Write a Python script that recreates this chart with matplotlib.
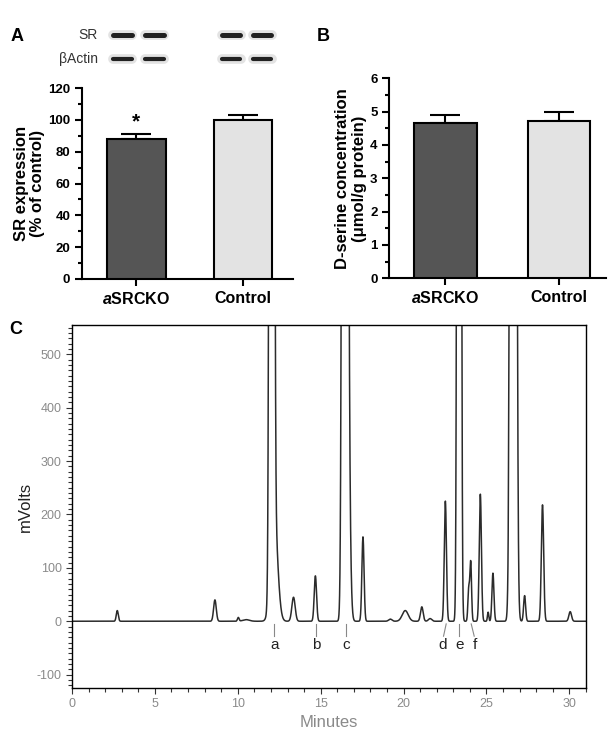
import numpy as np
import matplotlib
matplotlib.use("Agg")
import matplotlib.pyplot as plt
from matplotlib.ticker import MultipleLocator

plt.rcParams['font.family'] = ['Liberation Sans', 'DejaVu Sans']
plt.rcParams['mathtext.fontset'] = 'custom'
plt.rcParams['mathtext.it'] = 'Liberation Sans:italic:bold'
plt.rcParams['mathtext.rm'] = 'Liberation Sans:bold'
plt.rcParams['axes.unicode_minus'] = False

# --- data ---
groups = [r'$\it{a}$SRCKO', 'Control']
sr_expr = [88, 100]          # % of control
sr_err = [2.8, 2.8]
dser = [4.67, 4.71]          # umol/g protein
dser_err = [0.23, 0.28]
bar_colors = ['#555555', '#e3e3e3']

# blot lanes (x in bar-axis units) and rows
blot_lanes = [-0.13, 0.17, 0.89, 1.18]
blot_rows = ['SR', 'βActin']

# chromatogram peak table: retention time (min), height (mV), width (sigma, min)
peak_t = [2.73, 8.62, 10.03, 10.5, 12.05, 12.2, 13.36, 14.68, 16.46, 16.62, 17.55,
          19.2, 20.1, 21.1, 21.6, 22.52, 23.35, 23.93, 24.05, 24.63, 25.1, 25.39,
          26.34, 26.62, 27.3, 28.38, 30.05]
peak_h = [20, 40, 7, 3, 8000, 195, 45, 85, 8000, 500, 158,
          4, 20, 27, 5, 225, 8000, 60, 110, 238, 17, 90,
          70, 8000, 48, 218, 18]
peak_w = [0.06, 0.08, 0.05, 0.2, 0.087, 0.2, 0.1, 0.07, 0.1, 0.12, 0.065,
          0.1, 0.18, 0.08, 0.1, 0.065, 0.074, 0.05, 0.05, 0.065, 0.04, 0.06,
          0.015, 0.11, 0.06, 0.07, 0.08]

# peak labels: (label, line top x, line bottom x)
peak_labels = ['a', 'b', 'c', 'd', 'e', 'f']
label_top = [12.21, 14.72, 16.54, 22.57, 23.36, 24.08]
label_bot = [12.21, 14.72, 16.54, 22.41, 23.36, 24.26]

fig = plt.figure(figsize=(6.14, 7.34), dpi=100)

x = np.arange(len(groups))


def bar_panel(ax, vals, errs, ylim, major, minor, ylabel, xlim):
    ax.bar(x, vals, width=0.55, color=bar_colors, edgecolor='black', linewidth=1.5, zorder=3)
    ax.errorbar(x, vals, yerr=[[0, 0], errs], fmt='none', ecolor='black',
                elinewidth=1.5, capsize=11, capthick=1.5, zorder=2)
    ax.set_xlim(*xlim)
    ax.set_ylim(*ylim)
    ax.yaxis.set_major_locator(MultipleLocator(major))
    ax.yaxis.set_minor_locator(MultipleLocator(minor))
    ax.set_xticks(x)
    ax.set_xticklabels(groups, fontsize=11.5, fontweight='bold')
    for lab in ax.get_yticklabels():
        lab.set_fontweight('bold')
    ax.tick_params(axis='y', labelsize=9.5, width=1.5, length=5)
    ax.tick_params(axis='y', which='minor', width=1.5, length=3)
    ax.tick_params(axis='x', width=1.5, length=5)
    for s in ['top', 'right']:
        ax.spines[s].set_visible(False)
    for s in ['left', 'bottom']:
        ax.spines[s].set_linewidth(1.5)
    ax.set_ylabel(ylabel, fontsize=12, fontweight='bold', linespacing=1.1)


# panel A
axA = fig.add_axes([0.1336, 0.6199, 0.3436, 0.2602])
bar_panel(axA, sr_expr, sr_err, (0, 120), 20, 10, 'SR expression\n(% of control)', (-0.51, 1.47))
axA.yaxis.set_label_coords(-0.175, 0.5)
axA.text(0, sr_expr[0] + sr_err[0] + 2, '*', ha='center', va='bottom', fontsize=15, fontweight='bold')

# blot
axBl = fig.add_axes([0.1336, 0.9046, 0.3436, 0.0613])
axBl.set_xlim(-0.51, 1.47)
axBl.set_ylim(0, 1)
axBl.axis('off')
row_y = [0.78, 0.24]
for r, yy in zip(blot_rows, row_y):
    axBl.text(-0.36, yy, r, ha='right', va='center', fontsize=10, color='#333333')
    for lx in blot_lanes:
        axBl.plot([lx - 0.09, lx + 0.09], [yy, yy], color='#c8c8c8', lw=7,
                  solid_capstyle='round', alpha=0.5)
        axBl.plot([lx - 0.085, lx + 0.085], [yy, yy], color='#222222',
                  lw=3.6 if r == 'SR' else 3.0, solid_capstyle='round')

# panel B
axB = fig.add_axes([0.634, 0.6208, 0.353, 0.2725])
bar_panel(axB, dser, dser_err, (0, 6), 1, 0.5,
          'D-serine concentration\n(μmol/g protein)', (-0.495, 1.414))
axB.yaxis.set_label_coords(-0.105, 0.5)

# panel C: chromatogram
axC = fig.add_axes([0.1173, 0.0627, 0.837, 0.4946])
t = np.arange(0, 31.0, 0.005)
sig = np.zeros_like(t)
for pt, ph, pw in zip(peak_t, peak_h, peak_w):
    sig += ph * np.exp(-0.5 * ((t - pt) / pw) ** 2)
axC.plot(t, sig, color='#2b2b2b', lw=1.1)
axC.set_xlim(0, 31)
axC.set_ylim(-125, 555)
axC.xaxis.set_major_locator(MultipleLocator(5))
axC.xaxis.set_minor_locator(MultipleLocator(1))
axC.yaxis.set_major_locator(MultipleLocator(100))
axC.yaxis.set_minor_locator(MultipleLocator(10))
axC.tick_params(which='both', direction='out', width=0.8, color='#333333',
                labelcolor='#8a8a8a', labelsize=9, top=False, right=False)
axC.tick_params(which='major', length=4)
axC.tick_params(which='minor', length=3)
for s in axC.spines.values():
    s.set_linewidth(1.0)
axC.set_xlabel('Minutes', fontsize=12, color='#8a8a8a', labelpad=3)
axC.set_ylabel('mVolts', fontsize=12, color='#222222', labelpad=3)

for lab, xt, xb in zip(peak_labels, label_top, label_bot):
    axC.plot([xt, xb], [-5, -28], color='#888888', lw=0.8)
    axC.text(xb + (xb - xt) * 0.4, -44, lab, ha='center', va='center', fontsize=11, color='#222222')

# panel letters
fig.text(0.028, 0.95, 'A', fontsize=13, fontweight='bold', ha='center', va='center')
fig.text(0.526, 0.95, 'B', fontsize=13, fontweight='bold', ha='center', va='center')
fig.text(0.026, 0.551, 'C', fontsize=13, fontweight='bold', ha='center', va='center')

fig.savefig('out.png', dpi=100)
